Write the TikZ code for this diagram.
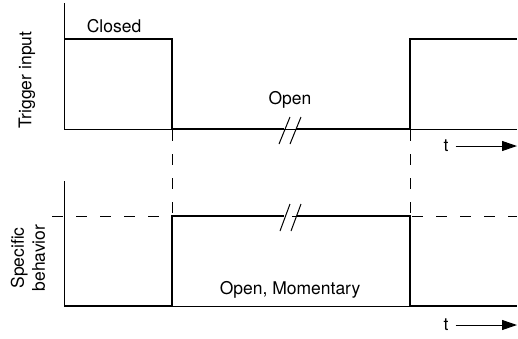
\documentclass[tikz,border=0pt]{standalone}
\usepackage{fontspec}
\setmainfont{TeX Gyre Heros}
\usetikzlibrary{arrows.meta}
\tikzset{
  signal/.style={line width=2.4pt,line join=miter},
  axisline/.style={line width=1pt},
  guide/.style={line width=1pt,dash pattern=on 11pt off 13pt},
  timearrow/.style={line width=1pt,-{Triangle[length=15pt,width=10pt]}},
  label/.style={inner sep=0pt}
}
\begin{document}
\begin{tikzpicture}[x=1pt,y=-1pt,font=\fontsize{17.5}{21}\selectfont]
\useasboundingbox (0,0) rectangle (518,338);

% guide lines between the two plots
\draw[guide] (172,130) -- (172,216);
\draw[guide] (410,130) -- (410,216);
\draw[guide] (52,216) -- (517,216);
%
\begin{scope}[shift={(0,129)}]
 \draw[axisline] (64,-126) -- (64,0) -- (517,0);
 \draw[signal] (64,-90) -- (172,-90) -- (172,0) -- (284,0);
 \draw[signal] (297,0) -- (410,0) -- (410,-90) -- (517,-90);
 \foreach \X in {279,290}
  {\draw[axisline] (\X,15) -- (\X+11,-12);}
 \node[label] (closed) at (114,-103) {Closed};
 \node[label] (open) at (290,-29) {Open};
 \node[label,rotate=90] (trigger) at (27,-49) {Trigger input};
 \node[label] (t1) at (446,17) {t};
 \coordinate (tend1) at (517,17);
 \draw[timearrow] ([xshift=7pt]t1.east) -- (tend1);
\end{scope}
%
\begin{scope}[shift={(0,306)}]
 \draw[axisline] (64,-125) -- (64,0) -- (517,0);
 \draw[signal] (64,0) -- (172,0) -- (172,-90) -- (284,-90);
 \draw[signal] (297,-90) -- (410,-90) -- (410,0) -- (517,0);
 \foreach \X in {280,291}
  {\draw[axisline] (\X,-75) -- (\X+10,-102);}
 \node[label] (momentary) at (290,-16) {Open, Momentary};
 \node[label,rotate=90,align=center] (behav) at (28,-48) {Specific\\behavior};
 \node[label] (t2) at (446,19) {t};
 \coordinate (tend2) at (517,19);
 \draw[timearrow] ([xshift=7pt]t2.east) -- (tend2);
\end{scope}
\end{tikzpicture}
\end{document}
